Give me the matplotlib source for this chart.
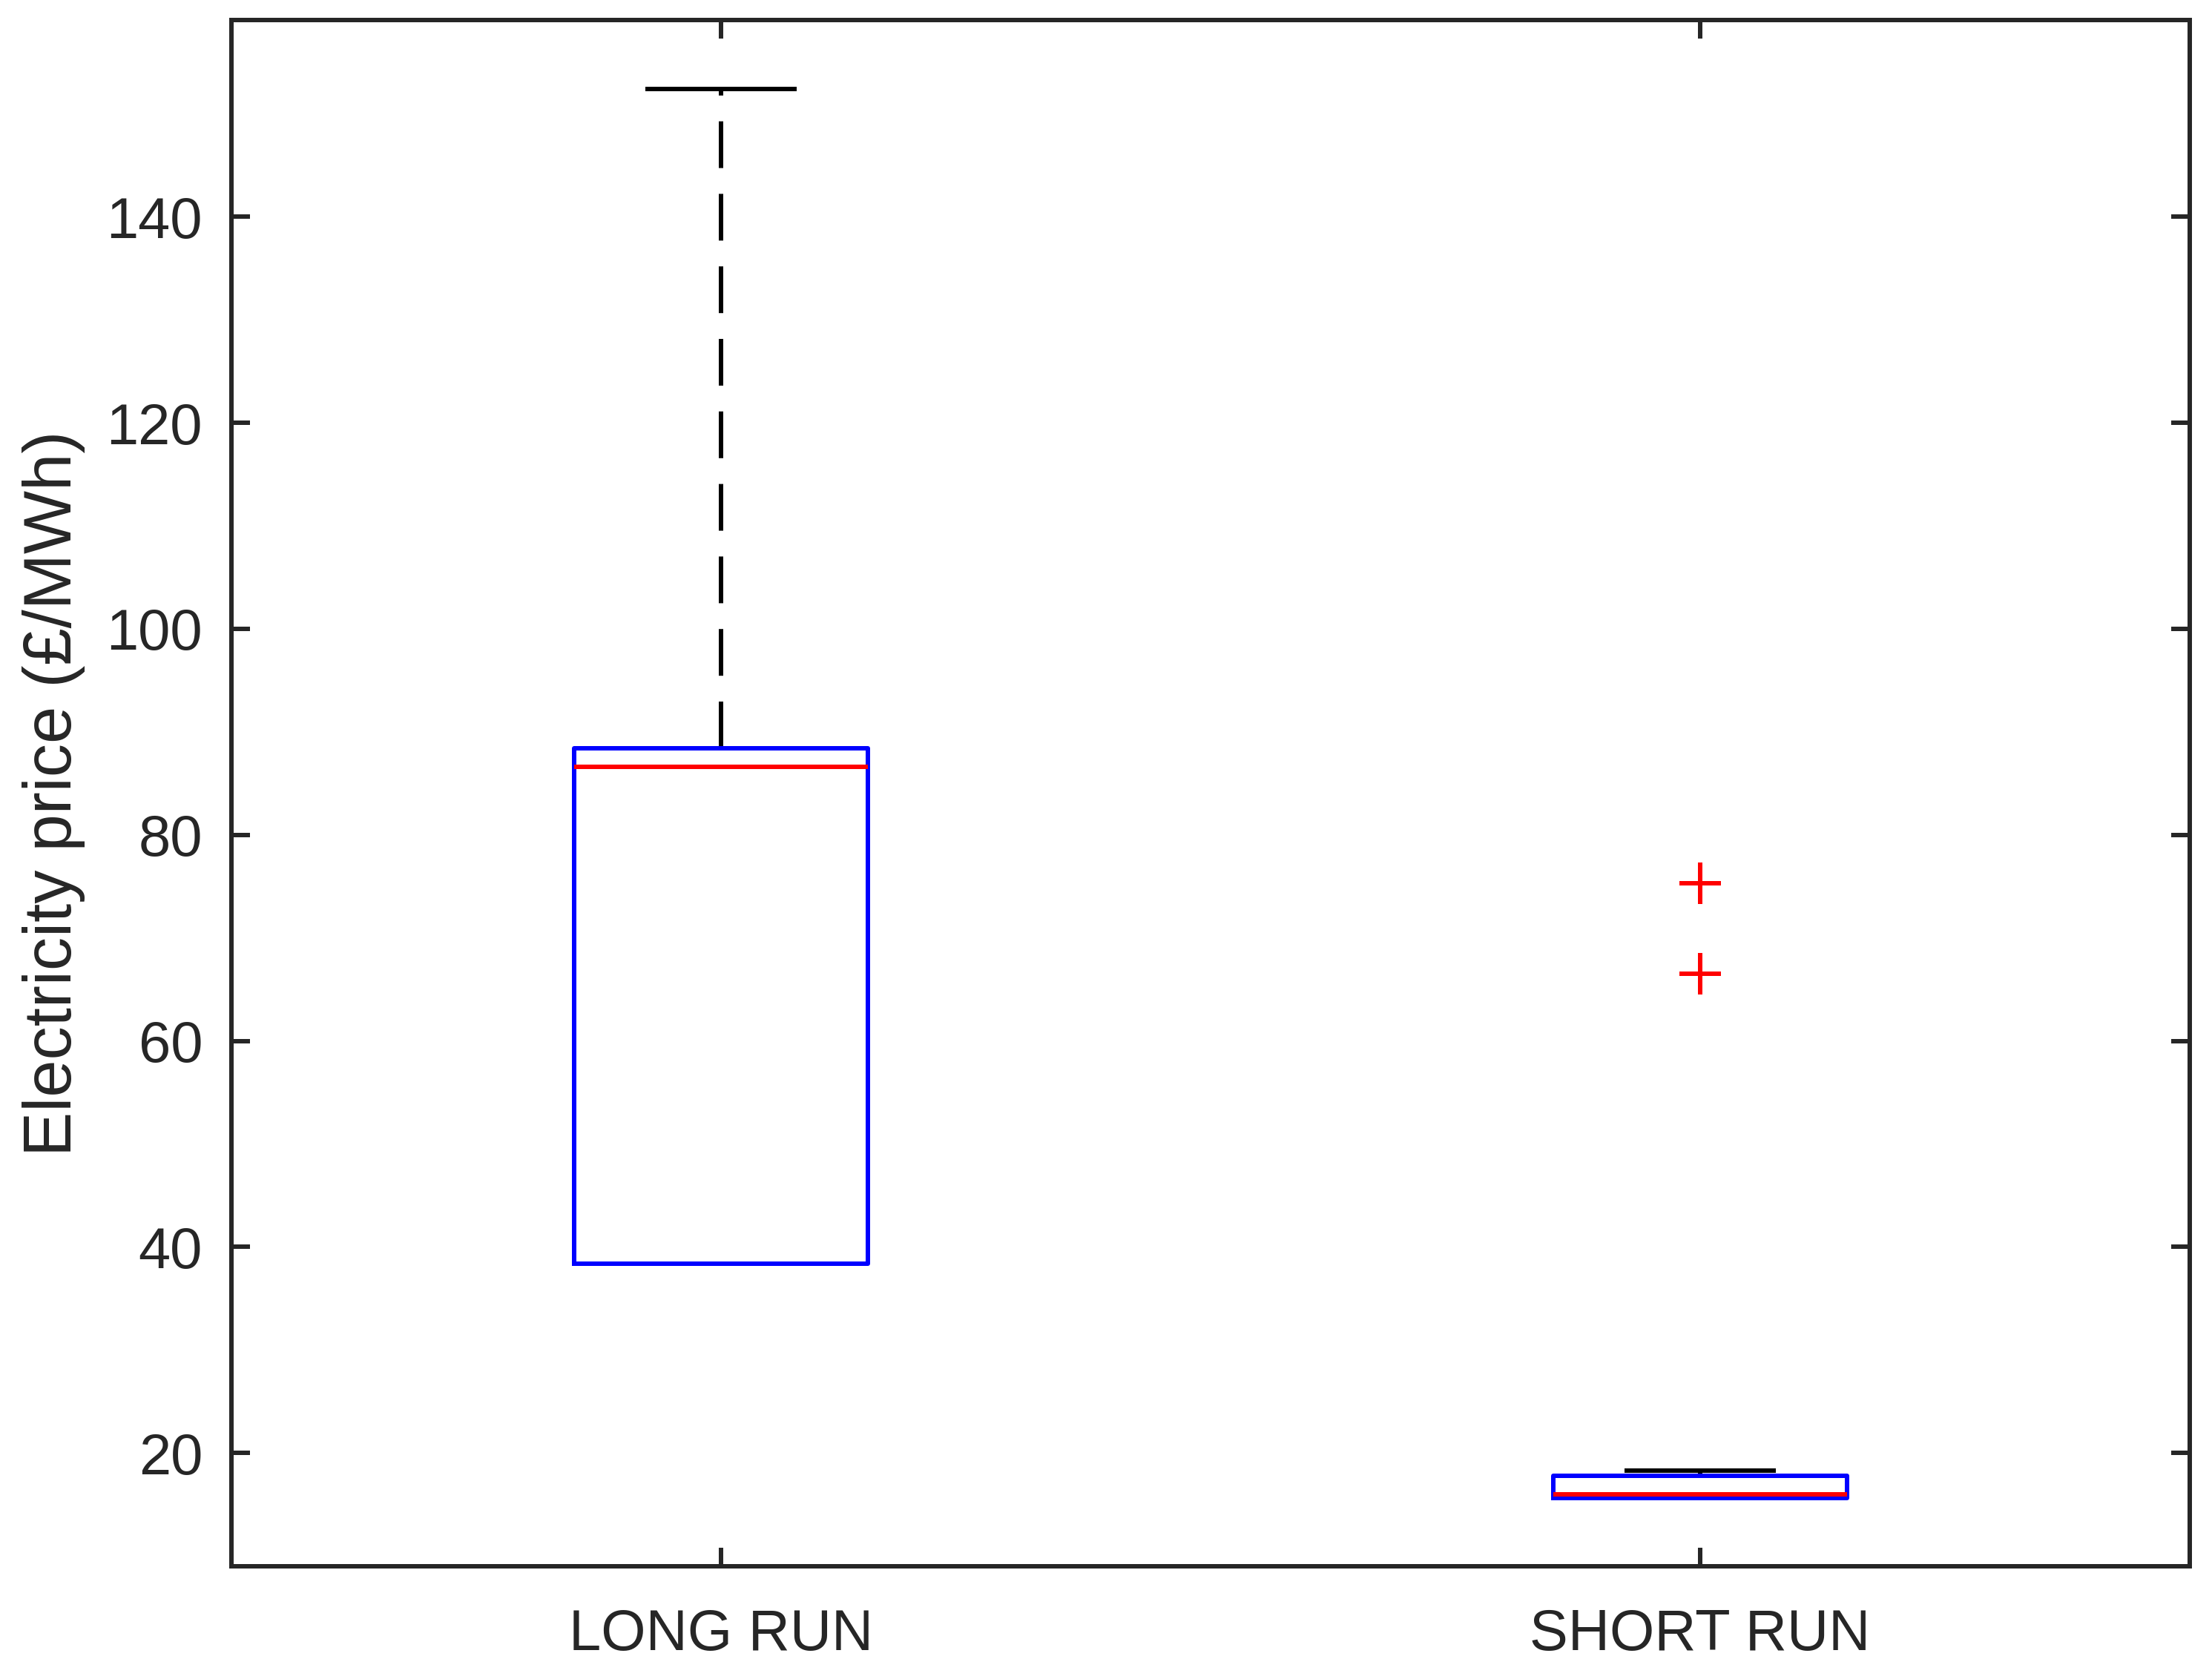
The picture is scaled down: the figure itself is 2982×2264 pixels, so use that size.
import matplotlib.pyplot as plt

plt.rcParams['font.family'] = ['Liberation Sans', 'DejaVu Sans']

# box statistics (GBP/MWh)
labels = ['LONG RUN', 'SHORT RUN']
q1 = [38.4, 15.6]
med = [86.6, 16.0]
q3 = [88.4, 17.8]
whislo = [38.4, 15.6]
whishi = [152.4, 18.3]
fliers = [[], [66.5, 75.3]]

stats = []
for i in range(len(labels)):
    stats.append(dict(label=labels[i], q1=q1[i], med=med[i], q3=q3[i],
                      whislo=whislo[i], whishi=whishi[i], fliers=fliers[i]))

fig = plt.figure(figsize=(14.91, 11.32), dpi=200)
ax = fig.add_axes([0.1046, 0.0671, 0.8853, 0.9210])

lw = 2.16
ax.bxp(stats, positions=[1, 2], widths=0.30, capwidths=0.15,
       boxprops=dict(color='#0000ff', linewidth=lw, zorder=3),
       medianprops=dict(color='#ff0000', linewidth=lw, zorder=4),
       whiskerprops=dict(color='black', linewidth=lw, linestyle=(0, (10.5, 5.8))),
       capprops=dict(color='black', linewidth=lw),
       flierprops=dict(marker='+', markeredgecolor='#ff0000', markersize=20,
                       markeredgewidth=lw, linestyle='none'))

ax.set_xlim(0.5, 2.5)
ax.set_ylim(9, 159.1)
ax.set_yticks([20, 40, 60, 80, 100, 120, 140])

for s in ax.spines.values():
    s.set_color('#262626')
    s.set_linewidth(lw)

ax.tick_params(axis='both', direction='in', length=9, width=lw, color='#262626',
               labelcolor='#262626', labelsize=28, top=True, right=True)
ax.tick_params(axis='y', pad=14)
ax.tick_params(axis='x', pad=20)

ax.set_ylabel('Electricity price (£/MWh)', fontsize=32.5, color='#262626')
ax.yaxis.set_label_coords(-0.0747, 0.5)

fig.savefig('out.png', dpi=200)
